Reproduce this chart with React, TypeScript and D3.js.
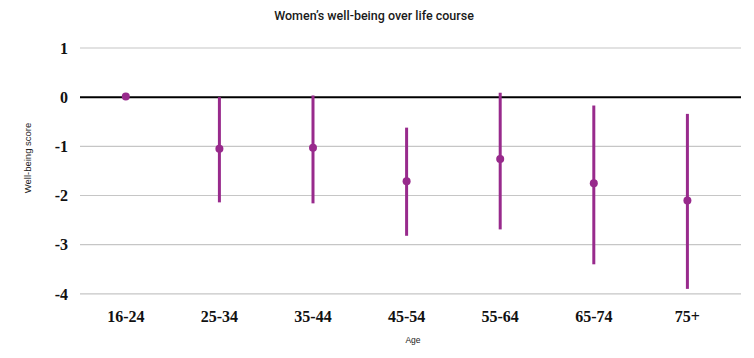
import React from "react";
import * as d3 from "d3";

const categories = ["16-24", "25-34", "35-44", "45-54", "55-64", "65-74", "75+"];
const pointValues = [0.015, -1.05, -1.03, -1.71, -1.26, -1.75, -2.1];
const lowerValues: (number | null)[] = [null, -2.14, -2.16, -2.82, -2.69, -3.4, -3.9];
const upperValues: (number | null)[] = [null, 0.0, 0.035, -0.62, 0.09, -0.17, -0.34];
const yTicks = [1, 0, -1, -2, -3, -4];

const W = 754;
const H = 358;
const purple = "#982a8c";

export default function App() {
  const x = d3.scaleBand<string>().domain(categories).range([79, 734.2]);
  const y = d3.scaleLinear().domain([-4, 1]).range([293.8, 48]);
  return (
    <svg width={W} height={H} style={{ position: "absolute", left: 0, top: 0, background: "#fff" }}>
      <text x={374} y={20} textAnchor="middle" fontFamily="Roboto, Liberation Sans, Arial, sans-serif" fontSize={12.5} fill="#1a1a1a" fontWeight={500}>
        Women’s well-being over life course
      </text>
      {yTicks.map((t) => (
        <g key={t}>
          <line x1={80} x2={741} y1={y(t)} y2={y(t)} stroke={t === 0 ? "#000" : "#c6c6c6"} strokeWidth={t === 0 ? 2 : 1.2} />
          <text x={68} y={y(t)} dy="0.36em" textAnchor="end" fontFamily="Liberation Serif, serif" fontWeight="bold" fontSize={16} fill="#111">
            {t}
          </text>
        </g>
      ))}
      <text transform={`translate(31,158) rotate(-90)`} textAnchor="middle" fontFamily="Liberation Sans, Arial, sans-serif" fontSize={9.5} fill="#222">
        Well-being score
      </text>
      {categories.map((c, i) => {
        const cx = (x(c) as number) + x.bandwidth() / 2;
        const lo = lowerValues[i];
        const hi = upperValues[i];
        return (
          <g key={c}>
            {lo !== null && hi !== null && (
              <line x1={cx} x2={cx} y1={y(hi)} y2={y(lo)} stroke={purple} strokeWidth={3} />
            )}
            <circle cx={cx} cy={y(pointValues[i])} r={4} fill={purple} />
            <text x={cx} y={322} textAnchor="middle" fontFamily="Liberation Serif, serif" fontWeight="bold" fontSize={16} fill="#111">
              {c}
            </text>
          </g>
        );
      })}
      <text x={413} y={343} textAnchor="middle" fontFamily="Liberation Sans, Arial, sans-serif" fontSize={8.5} fill="#222">
        Age
      </text>
    </svg>
  );
}
